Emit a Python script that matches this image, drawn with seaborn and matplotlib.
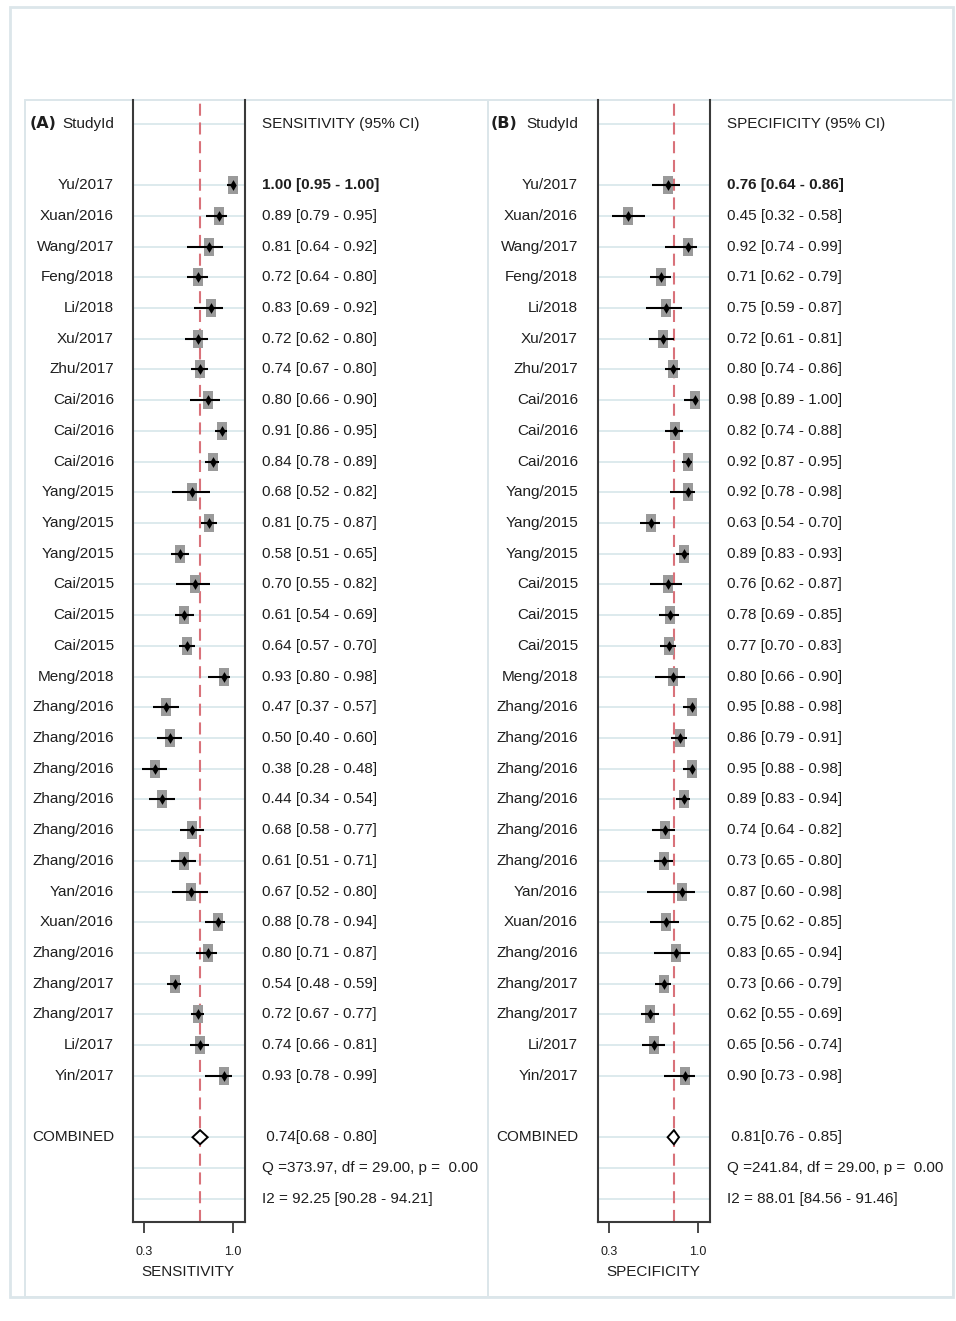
import numpy as np
import pandas as pd
import matplotlib
matplotlib.use("Agg")
import matplotlib.pyplot as plt
from matplotlib.patches import Rectangle, Polygon
from matplotlib.markers import MarkerStyle
from matplotlib.transforms import blended_transform_factory
import seaborn as sns

# ---- data ---------------------------------------------------------------
studies = ["Yu/2017", "Xuan/2016", "Wang/2017", "Feng/2018", "Li/2018", "Xu/2017",
           "Zhu/2017", "Cai/2016", "Cai/2016", "Cai/2016", "Yang/2015", "Yang/2015",
           "Yang/2015", "Cai/2015", "Cai/2015", "Cai/2015", "Meng/2018", "Zhang/2016",
           "Zhang/2016", "Zhang/2016", "Zhang/2016", "Zhang/2016", "Zhang/2016",
           "Yan/2016", "Xuan/2016", "Zhang/2016", "Zhang/2017", "Zhang/2017",
           "Li/2017", "Yin/2017"]

sens_est = [1.00, 0.89, 0.81, 0.72, 0.83, 0.72, 0.74, 0.80, 0.91, 0.84, 0.68, 0.81,
            0.58, 0.70, 0.61, 0.64, 0.93, 0.47, 0.50, 0.38, 0.44, 0.68, 0.61, 0.67,
            0.88, 0.80, 0.54, 0.72, 0.74, 0.93]
sens_lo = [0.95, 0.79, 0.64, 0.64, 0.69, 0.62, 0.67, 0.66, 0.86, 0.78, 0.52, 0.75,
           0.51, 0.55, 0.54, 0.57, 0.80, 0.37, 0.40, 0.28, 0.34, 0.58, 0.51, 0.52,
           0.78, 0.71, 0.48, 0.67, 0.66, 0.78]
sens_hi = [1.00, 0.95, 0.92, 0.80, 0.92, 0.80, 0.80, 0.90, 0.95, 0.89, 0.82, 0.87,
           0.65, 0.82, 0.69, 0.70, 0.98, 0.57, 0.60, 0.48, 0.54, 0.77, 0.71, 0.80,
           0.94, 0.87, 0.59, 0.77, 0.81, 0.99]

spec_est = [0.76, 0.45, 0.92, 0.71, 0.75, 0.72, 0.80, 0.98, 0.82, 0.92, 0.92, 0.63,
            0.89, 0.76, 0.78, 0.77, 0.80, 0.95, 0.86, 0.95, 0.89, 0.74, 0.73, 0.87,
            0.75, 0.83, 0.73, 0.62, 0.65, 0.90]
spec_lo = [0.64, 0.32, 0.74, 0.62, 0.59, 0.61, 0.74, 0.89, 0.74, 0.87, 0.78, 0.54,
           0.83, 0.62, 0.69, 0.70, 0.66, 0.88, 0.79, 0.88, 0.83, 0.64, 0.65, 0.60,
           0.62, 0.65, 0.66, 0.55, 0.56, 0.73]
spec_hi = [0.86, 0.58, 0.99, 0.79, 0.87, 0.81, 0.86, 1.00, 0.88, 0.95, 0.98, 0.70,
           0.93, 0.87, 0.85, 0.83, 0.90, 0.98, 0.91, 0.98, 0.94, 0.82, 0.80, 0.98,
           0.85, 0.94, 0.79, 0.69, 0.74, 0.98]

sens_pooled = [0.74, 0.68, 0.80]
spec_pooled = [0.81, 0.76, 0.85]
sens_het = [373.97, 29.00, 0.00]          # Q, df, p
spec_het = [241.84, 29.00, 0.00]
sens_i2 = [92.25, 90.28, 94.21]
spec_i2 = [88.01, 84.56, 91.46]

x_ticks = [0.3, 1.0]
x_tick_labels = ["0.3", "1.0"]

# ---- style ----------------------------------------------------------------
sns.set_theme(style="white")
plt.rcParams["font.family"] = ["Liberation Sans", "DejaVu Sans"]
TXT = "#1e1e1e"
GRID = "#d3e4e8"
FRAME = "#dce6ea"
SPINE = "#3a3a3a"
REF = "#d9727a"
BOX = "#9a9a9a"
FS = 11

W, H = 956, 1321
fig = plt.figure(figsize=(W / 100, H / 100), dpi=100)


def fx(px):
    return px / W


def fy(py):
    return 1 - py / H


# light frames around the whole figure and around each panel
for (x0, y0, x1, y1, lw) in [(10, 7, 953, 1297, 2.0), (25, 100, 488, 1297, 1.4),
                             (488, 100, 953, 1297, 1.4)]:
    fig.add_artist(Rectangle((fx(x0), fy(y1)), fx(x1) - fx(x0), fy(y0) - fy(y1),
                             transform=fig.transFigure, fill=False,
                             edgecolor=FRAME, lw=lw, zorder=0))

n = len(studies)
HEADER_ROW = -2
POOLED_ROW = n + 1
Y_TOP, Y_BOTTOM = -2.77, 33.76
XLIM = (0.21, 1.095)
AX_TOP, AX_BOTTOM = 100, 1222

box_marker = MarkerStyle([(-0.6, -1), (0.6, -1), (0.6, 1), (-0.6, 1)])

panels = [
    dict(tag="(A)", tag_x=30, name_x=114, box=(133, 245), val_x=262,
         title="SENSITIVITY (95% CI)", xlabel="SENSITIVITY",
         est=sens_est, lo=sens_lo, hi=sens_hi, pooled=sens_pooled,
         het=sens_het, i2=sens_i2),
    dict(tag="(B)", tag_x=491, name_x=578, box=(598, 710), val_x=727,
         title="SPECIFICITY (95% CI)", xlabel="SPECIFICITY",
         est=spec_est, lo=spec_lo, hi=spec_hi, pooled=spec_pooled,
         het=spec_het, i2=spec_i2),
]

for p in panels:
    df = pd.DataFrame({"study": studies, "est": p["est"], "lo": p["lo"],
                       "hi": p["hi"], "row": np.arange(n)})
    pe, plo, phi = p["pooled"]

    bx0, bx1 = p["box"]
    ax = fig.add_axes([fx(bx0), fy(AX_BOTTOM), fx(bx1) - fx(bx0),
                       fy(AX_TOP) - fy(AX_BOTTOM)])
    ax.set_xlim(*XLIM)
    ax.set_ylim(Y_BOTTOM, Y_TOP)
    ax.set_facecolor("none")

    # horizontal guide lines for the header, each study and the summary rows
    grid_rows = [HEADER_ROW] + list(df["row"]) + [POOLED_ROW, POOLED_ROW + 1, POOLED_ROW + 2]
    ax.hlines(grid_rows, XLIM[0], XLIM[1], color=GRID, lw=1.1, zorder=1)

    # pooled estimate reference line
    ax.axvline(pe, color=REF, lw=1.5, ls=(0, (5.8, 3.2)), zorder=2)

    # study weight boxes, confidence intervals and point estimates
    sns.scatterplot(data=df, x="est", y="row", marker=box_marker, s=150,
                    color=BOX, linewidth=0, legend=False, ax=ax, zorder=3)
    ax.hlines(df["row"], df["lo"], df["hi"], color="black", lw=1.5, zorder=4)
    sns.scatterplot(data=df, x="est", y="row", marker="d", s=30,
                    color="black", linewidth=0, legend=False, ax=ax, zorder=5)

    # pooled diamond
    h = 0.23
    ax.add_patch(Polygon([(plo, POOLED_ROW), (pe, POOLED_ROW - h),
                          (phi, POOLED_ROW), (pe, POOLED_ROW + h)],
                         closed=True, facecolor="white", edgecolor="black",
                         lw=1.4, zorder=5))

    # axes cosmetics
    for side in ["left", "right", "bottom"]:
        ax.spines[side].set_visible(True)
        ax.spines[side].set_color(SPINE)
        ax.spines[side].set_linewidth(1.5)
    ax.spines["top"].set_visible(False)
    ax.set_yticks([])
    ax.set_ylabel("")
    ax.set_xticks(x_ticks)
    ax.set_xticklabels(x_tick_labels)
    ax.tick_params(axis="x", bottom=True, length=8, width=1.3, color=SPINE,
                   pad=9.5, labelsize=9, labelcolor=TXT)
    ax.set_xlabel(p["xlabel"], fontsize=FS, color=TXT)
    ax.xaxis.set_label_coords(0.49, -43 / (AX_BOTTOM - AX_TOP))

    # text columns
    tr = blended_transform_factory(fig.transFigure, ax.transData)
    ax.text(fx(p["tag_x"]), HEADER_ROW, p["tag"], transform=tr, ha="left",
            va="center", fontsize=11.5, fontweight="bold", color=TXT,
            family="DejaVu Sans", clip_on=False)
    ax.text(fx(p["name_x"]), HEADER_ROW, "StudyId", transform=tr, ha="right",
            va="center", fontsize=FS, color=TXT, clip_on=False)
    ax.text(fx(p["val_x"]), HEADER_ROW, p["title"], transform=tr, ha="left",
            va="center", fontsize=FS, color=TXT, clip_on=False)

    for i, r in df.iterrows():
        ax.text(fx(p["name_x"]), r["row"], r["study"], transform=tr, ha="right",
                va="center", fontsize=FS, color=TXT, clip_on=False)
        ax.text(fx(p["val_x"]), r["row"],
                f"{r['est']:.2f} [{r['lo']:.2f} - {r['hi']:.2f}]",
                transform=tr, ha="left", va="center", fontsize=FS, color=TXT,
                fontweight="bold" if i == 0 else "normal", clip_on=False)

    ax.text(fx(p["name_x"]), POOLED_ROW, "COMBINED", transform=tr, ha="right",
            va="center", fontsize=FS, color=TXT, clip_on=False)
    ax.text(fx(p["val_x"]), POOLED_ROW, f" {pe:.2f}[{plo:.2f} - {phi:.2f}]",
            transform=tr, ha="left", va="center", fontsize=FS, color=TXT,
            clip_on=False)
    q, dfree, pval = p["het"]
    ax.text(fx(p["val_x"]), POOLED_ROW + 1,
            f"Q ={q:.2f}, df = {dfree:.2f}, p =  {pval:.2f}",
            transform=tr, ha="left", va="center", fontsize=FS, color=TXT,
            clip_on=False)
    i2, i2lo, i2hi = p["i2"]
    ax.text(fx(p["val_x"]), POOLED_ROW + 2,
            f"I2 = {i2:.2f} [{i2lo:.2f} - {i2hi:.2f}]",
            transform=tr, ha="left", va="center", fontsize=FS, color=TXT,
            clip_on=False)

fig.savefig("out.png", dpi=100, facecolor="white")
